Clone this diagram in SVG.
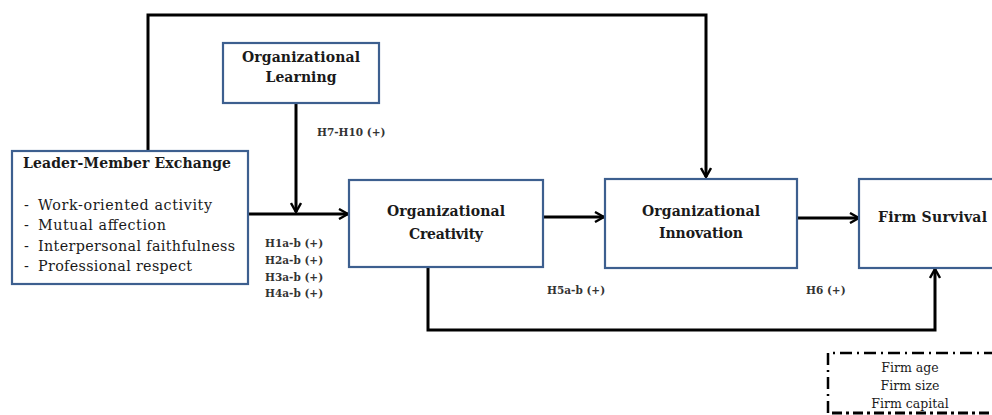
<svg xmlns="http://www.w3.org/2000/svg" width="992" height="415" viewBox="0 0 992 415">
<style>
.box{fill:#fff;stroke:#3d5f8f;stroke-width:2.2}
.t{font-family:"DejaVu Serif","Liberation Serif",serif;fill:#1a1a1a}
.b{font-weight:bold;font-size:14px}
.n{font-size:14.3px}
.s{font-size:10.5px;font-weight:bold;fill:#333}
.c{font-size:12.5px}
.ln{fill:none;stroke:#000;stroke-width:3}
</style>
<defs>
<marker id="ah" viewBox="0 0 12 12" refX="11" refY="6" markerWidth="12" markerHeight="12" markerUnits="userSpaceOnUse" orient="auto">
<polyline points="2,1 11,6 2,11" fill="none" stroke="#000" stroke-width="2.4"/>
</marker>
</defs>
<rect width="992" height="415" fill="#fff"/>
<g id="connectors">
<polyline class="ln" points="148,151 148,15 706,15 706,177" marker-end="url(#ah)"/>
<line class="ln" x1="296" y1="103" x2="296" y2="212" marker-end="url(#ah)"/>
<line class="ln" x1="249" y1="214" x2="348" y2="214" marker-end="url(#ah)"/>
<line class="ln" x1="543" y1="217" x2="604" y2="217" marker-end="url(#ah)"/>
<line class="ln" x1="797" y1="218" x2="859" y2="218" marker-end="url(#ah)"/>
<polyline class="ln" points="428,267 428,330 935,330 935,269" marker-end="url(#ah)"/>
</g>
<g id="lmx">
<rect class="box" x="12" y="151" width="236" height="133"/>
<text class="t b" x="23" y="168" textLength="208">Leader-Member Exchange</text>
<text class="t n" x="24" y="210">-</text><text class="t n" x="38" y="210" textLength="174">Work-oriented activity</text>
<text class="t n" x="24" y="230">-</text><text class="t n" x="38" y="230" textLength="128">Mutual affection</text>
<text class="t n" x="24" y="251">-</text><text class="t n" x="38" y="251" textLength="197">Interpersonal faithfulness</text>
<text class="t n" x="24" y="271">-</text><text class="t n" x="38" y="271" textLength="154">Professional respect</text>
</g>
<g id="learning">
<rect class="box" x="223" y="43" width="156" height="60"/>
<text class="t b" x="301" y="62" text-anchor="middle" textLength="118">Organizational</text>
<text class="t b" x="301" y="82" text-anchor="middle" textLength="71">Learning</text>
</g>
<g id="creativity">
<rect class="box" x="349" y="180" width="194" height="87"/>
<text class="t b" x="446" y="216" text-anchor="middle" textLength="118">Organizational</text>
<text class="t b" x="446" y="239" text-anchor="middle" textLength="74">Creativity</text>
</g>
<g id="innovation">
<rect class="box" x="605" y="179" width="192" height="89"/>
<text class="t b" x="701" y="216" text-anchor="middle" textLength="118">Organizational</text>
<text class="t b" x="701" y="238" text-anchor="middle" textLength="84">Innovation</text>
</g>
<g id="survival">
<rect class="box" x="859" y="179" width="140" height="89"/>
<text class="t b" x="878" y="222" textLength="109">Firm Survival</text>
</g>
<g id="controls">
<polyline points="828,413 828,353 995,353" fill="none" stroke="#000" stroke-width="2.5" stroke-dasharray="12,5,2,5"/>
<line x1="832" y1="413" x2="995" y2="413" stroke="#000" stroke-width="3" stroke-dasharray="10,4,3,4"/>
<text class="t c" x="910" y="372" text-anchor="middle">Firm age</text>
<text class="t c" x="910" y="390" text-anchor="middle">Firm size</text>
<text class="t c" x="910" y="408" text-anchor="middle">Firm capital</text>
</g>
<g id="labels">
<text class="t s" x="317" y="136">H7-H10 (+)</text>
<text class="t s" x="265" y="247">H1a-b (+)</text>
<text class="t s" x="265" y="264">H2a-b (+)</text>
<text class="t s" x="265" y="281">H3a-b (+)</text>
<text class="t s" x="265" y="297">H4a-b (+)</text>
<text class="t s" x="547" y="294">H5a-b (+)</text>
<text class="t s" x="806" y="294">H6 (+)</text>
</g>
</svg>
